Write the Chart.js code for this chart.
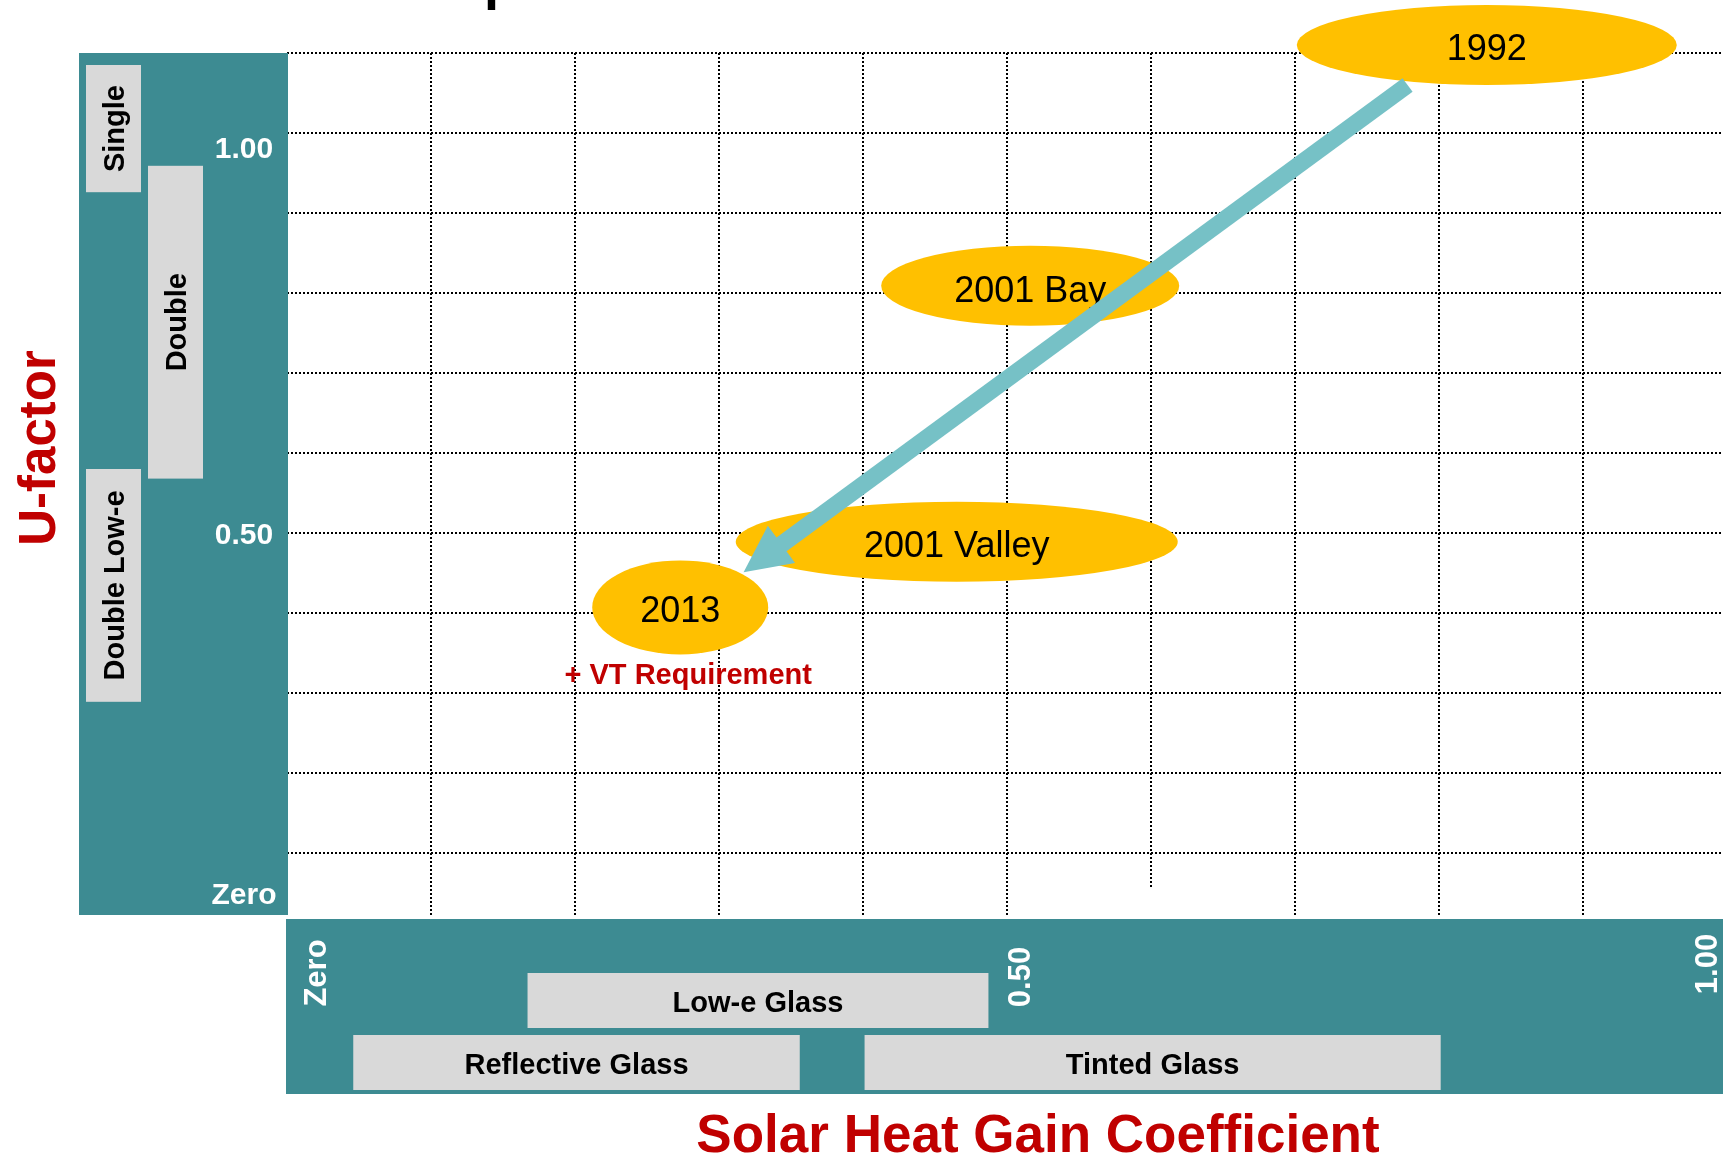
<!DOCTYPE html>
<html>
<head>
<meta charset="utf-8">
<title>U-factor vs Solar Heat Gain Coefficient</title>
<script src="https://cdn.jsdelivr.net/npm/chart.js@4.4.1/dist/chart.umd.min.js"></script>
<style>
html, body { margin: 0; padding: 0; background: #fff; }
#wrap { position: relative; width: 1723px; height: 1158px; }
</style>
</head>
<body>
<div id="wrap"><canvas id="glazingChart"></canvas></div>
<script>
// code milestones, placed by SHGC (x) and U-factor (y)
var milestoneLabels = ['1992', '2001 Bay', '2001 Valley', '2013'];
var milestoneSHGC = [0.833, 0.516, 0.465, 0.273];
var milestoneU = [1.11, 0.809, 0.489, 0.407];

// trend arrow, 1992 -> 2013
var trendSHGC = [0.778, 0.317];
var trendU = [1.06, 0.451];

// glazing types along the U-factor axis
var glazingLabels = ['Single', 'Double', 'Double Low-e'];
var glazingUFrom = [0.926, 0.568, 0.289];
var glazingUTo = [1.085, 0.959, 0.58];

// glass types along the SHGC axis
var glassLabels = ['Low-e Glass', 'Reflective Glass', 'Tinted Glass'];
var glassSHGCFrom = [0.167, 0.046, 0.401];
var glassSHGCTo = [0.487, 0.356, 0.801];

// axis tick labels
var uTicks = [1.0, 0.5, 0];
var uTickLabels = ['1.00', '0.50', 'Zero'];
var shgcTicks = [0, 0.5, 1.0];
var shgcTickLabels = ['Zero', '0.50', '1.00'];

var note2013 = '+ VT Requirement';

var TEAL = '#3d8b92', GREY = '#d9d9d9', GOLD = '#ffc000', ARROW = '#76c1c6', RED = '#c00000';
var FONT = '"Liberation Sans", Arial, sans-serif';

Chart.defaults.font.family = FONT;

// draws text turned to read bottom-to-top, centred on (x, y)
function upText(ctx, text, x, y, size, color) {
    ctx.save();
    ctx.translate(x + size * 0.358, y);
    ctx.rotate(-Math.PI / 2);
    ctx.font = 'bold ' + size + 'px ' + FONT;
    ctx.fillStyle = color;
    ctx.textAlign = 'center';
    ctx.textBaseline = 'alphabetic';
    ctx.fillText(text, 0, 0);
    ctx.restore();
}

function flatText(ctx, text, x, y, font, size, color) {
    ctx.font = font + ' ' + size + 'px ' + FONT;
    ctx.fillStyle = color;
    ctx.textAlign = 'center';
    ctx.textBaseline = 'alphabetic';
    ctx.fillText(text, x, y + size * 0.358);
}

var diagramPlugin = {
    id: 'diagram',
    beforeDraw: function (chart) {
        var ctx = chart.ctx;
        ctx.save();
        ctx.fillStyle = '#fff';
        ctx.fillRect(0, 0, chart.width, chart.height);
        ctx.restore();
    },
    afterDatasetsDraw: function (chart) {
        var ctx = chart.ctx, area = chart.chartArea;
        var xs = chart.scales.x, ys = chart.scales.y;
        ctx.save();

        // cut-off slide title above the chart
        ctx.font = 'bold 54px ' + FONT;
        ctx.fillStyle = '#000';
        ctx.textAlign = 'left';
        ctx.fillText('p', 484, -1);

        // the 0.6 grid line stops short of the panel in the original
        ctx.fillStyle = '#fff';
        ctx.fillRect(xs.getPixelForValue(0.6) - 2, 888, 4, area.bottom - 888);

        // --- U-factor panel ---
        var panelLeft = 79, panelBottom = area.bottom - 2;
        ctx.fillStyle = TEAL;
        ctx.fillRect(panelLeft, area.top, area.left + 1 - panelLeft, panelBottom - area.top);

        var laneX = [86, 148, 86], laneW = 55;
        glazingLabels.forEach(function (lbl, i) {
            var y1 = ys.getPixelForValue(glazingUTo[i]);
            var y2 = ys.getPixelForValue(glazingUFrom[i]);
            ctx.fillStyle = GREY;
            ctx.fillRect(laneX[i], y1, laneW, y2 - y1);
            upText(ctx, lbl, laneX[i] + laneW / 2, (y1 + y2) / 2, 29, '#000');
        });

        var uNudge = [14, 0, -40];
        uTickLabels.forEach(function (lbl, i) {
            var y = ys.getPixelForValue(uTicks[i]) + uNudge[i];
            flatText(ctx, lbl, 244, y, 'bold', 30, '#fff');
        });

        // --- SHGC panel ---
        var bandTop = area.bottom + 2, bandBottom = 1094;
        ctx.fillStyle = TEAL;
        ctx.fillRect(area.left - 1, bandTop, chart.width - area.left + 1, bandBottom - bandTop);

        var rowY = [973, 1035, 1035], rowH = 55;
        glassLabels.forEach(function (lbl, i) {
            var x1 = xs.getPixelForValue(glassSHGCFrom[i]);
            var x2 = xs.getPixelForValue(glassSHGCTo[i]);
            ctx.fillStyle = GREY;
            ctx.fillRect(x1, rowY[i], x2 - x1, rowH);
            flatText(ctx, lbl, (x1 + x2) / 2, rowY[i] + rowH / 2 + 1, 'bold', 29, '#000');
        });

        var xNudge = [28, 12, -21], xLabelY = [973, 977, 964];
        shgcTickLabels.forEach(function (lbl, i) {
            var x = xs.getPixelForValue(shgcTicks[i]) + xNudge[i];
            upText(ctx, lbl, x, xLabelY[i], 31, '#fff');
        });

        // --- milestone ellipses ---
        var rx = [190, 149, 221, 88], ry = [40, 40, 40, 47], textDy = [2, 3, 2, 2];
        var pts = chart.getDatasetMeta(0).data;
        pts.forEach(function (p, i) {
            ctx.beginPath();
            ctx.ellipse(p.x, p.y, rx[i], ry[i], 0, 0, Math.PI * 2);
            ctx.fillStyle = GOLD;
            ctx.fill();
            flatText(ctx, milestoneLabels[i], p.x, p.y + textDy[i], 'normal', 36, '#000');
        });

        var p2013 = pts[3];
        flatText(ctx, note2013, p2013.x + 8, p2013.y + 66, 'bold', 29, RED);

        // --- trend arrow ---
        var a = chart.getDatasetMeta(1).data;
        var sx = a[0].x, sy = a[0].y, tx = a[1].x, ty = a[1].y;
        var len = Math.hypot(tx - sx, ty - sy);
        var ux = (tx - sx) / len, uy = (ty - sy) / len;
        var headLen = 47, headHalf = 23, shaft = 17;
        var bx = tx - ux * headLen, by = ty - uy * headLen;
        ctx.strokeStyle = ARROW;
        ctx.lineWidth = shaft;
        ctx.lineCap = 'butt';
        ctx.beginPath();
        ctx.moveTo(sx, sy);
        ctx.lineTo(bx + ux * 2, by + uy * 2);
        ctx.stroke();
        ctx.fillStyle = ARROW;
        ctx.beginPath();
        ctx.moveTo(tx, ty);
        ctx.lineTo(bx - uy * headHalf, by + ux * headHalf);
        ctx.lineTo(bx + uy * headHalf, by - ux * headHalf);
        ctx.closePath();
        ctx.fill();

        // --- axis titles ---
        ctx.font = 'bold 53px ' + FONT;
        ctx.fillStyle = RED;
        ctx.textAlign = 'center';
        ctx.textBaseline = 'alphabetic';
        ctx.fillText('Solar Heat Gain Coefficient', 1038, 1152);

        ctx.save();
        ctx.translate(55, 448);
        ctx.rotate(-Math.PI / 2);
        ctx.font = 'bold 51px ' + FONT;
        ctx.fillText('U-factor', 0, 0);
        ctx.restore();

        ctx.restore();
    }
};

function gridTicks(from, to) {
    return function (scale) {
        var t = [];
        for (var k = from; k <= to; k++) t.push({ value: k / 10 });
        scale.ticks = t;
    };
}

var gridStyle = { color: '#000', lineWidth: 2, drawTicks: false };
var borderStyle = { display: false, dash: [2, 2] };

var chartCanvas = document.getElementById('glazingChart').getContext('2d');
var glazingChart = new Chart(chartCanvas, {
    type: 'scatter',
    data: {
        datasets: [{
            label: 'Code milestones',
            data: milestoneSHGC.map(function (s, i) { return { x: s, y: milestoneU[i] }; }),
            pointRadius: 0,
            showLine: false
        }, {
            label: 'Trend',
            data: trendSHGC.map(function (s, i) { return { x: s, y: trendU[i] }; }),
            pointRadius: 0,
            showLine: false
        }]
    },
    options: {
        responsive: true,
        maintainAspectRatio: false,
        animation: false,
        events: [],
        layout: { padding: { left: 287, top: 53, right: 0, bottom: 241 } },
        plugins: {
            legend: { display: false },
            tooltip: { enabled: false }
        },
        scales: {
            x: {
                type: 'linear', min: 0, max: 0.997, bounds: 'data',
                afterBuildTicks: gridTicks(0, 9),
                ticks: { display: false },
                grid: gridStyle,
                border: borderStyle
            },
            y: {
                type: 'linear', min: 0.02, max: 1.1, bounds: 'data',
                afterBuildTicks: gridTicks(1, 11),
                ticks: { display: false },
                grid: gridStyle,
                border: borderStyle
            }
        }
    },
    plugins: [diagramPlugin]
});
</script>
</body>
</html>
